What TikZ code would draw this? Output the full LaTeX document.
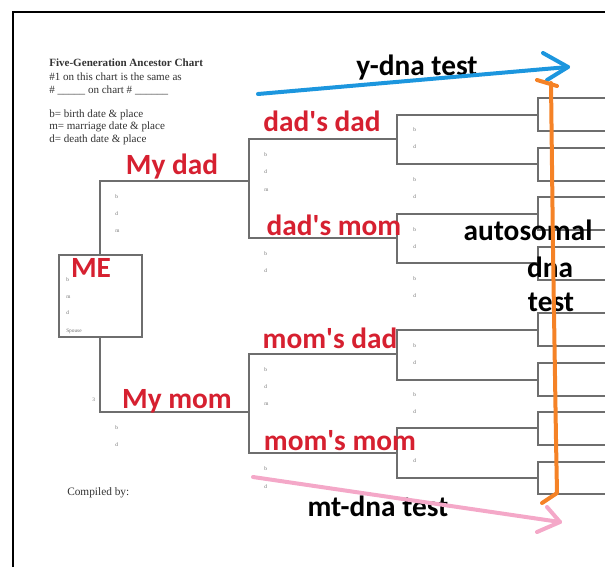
\documentclass[tikz,border=0pt]{standalone}
\usepackage{fontspec}
\setmainfont{Liberation Serif}
\newfontfamily\lblfont{Carlito}
\definecolor{lblred}{RGB}{214,32,48}
\definecolor{ybl}{RGB}{28,150,222}
\definecolor{orng}{RGB}{245,130,38}
\definecolor{pnk}{RGB}{244,168,200}
\definecolor{chartgray}{RGB}{110,110,110}
\begin{document}
\begin{tikzpicture}[x=0.75pt,y=-0.75pt,
  chart/.style={draw=chartgray,line width=0.9pt},
  frame/.style={draw=black,line width=2pt},
  redlbl/.style={text=lblred,font=\lblfont\bfseries\fontsize{22}{24}\selectfont,inner sep=0pt},
  blklbl/.style={text=black,font=\lblfont\bfseries\fontsize{22}{24}\selectfont,inner sep=0pt},
  tiny/.style={text=chartgray,font=\fontsize{4}{5}\selectfont,inner sep=0pt,anchor=west},
  head/.style={text=black!80,font=\fontsize{8.3}{10}\selectfont,inner sep=0pt,anchor=west},
  arrowline/.style={line width=3pt,line cap=round,line join=round}]
\useasboundingbox (0,0) rectangle (605,567);
% frame
\draw[frame] (13,567) -- (13,12) -- (605,12);
% heading text
\node[head,font=\bfseries\fontsize{8.3}{10}\selectfont] (t1) at (49,63) {Five-Generation Ancestor Chart};
\node[head] (t2) at (49,77) {\#1 on this chart is the same as};
\node[head] (t3) at (49,90) {\# \_\_\_\_\_ on chart \# \_\_\_\_\_\_};
\node[head] (t4) at (49,115) {b= birth date \& place};
\node[head] (t5) at (49,127) {m= marriage date \& place};
\node[head] (t6) at (49,140) {d= death date \& place};
\node[head,font=\fontsize{8.5}{10}\selectfont] (comp) at (67,493) {Compiled by:};
% ME box
\node[chart,minimum width=83*0.75pt,minimum height=82*0.75pt,inner sep=0pt] (me) at (100.5,296) {};
\coordinate (dadend) at (249,181);
\coordinate (momend) at (249,412);
\draw[chart] (dadend) -- (100,181) -- (me.north -| 100,0);
\draw[chart] (momend) -- (100,412) -- (me.south -| 100,0);
% generation 3 brackets
\draw[chart] (397,139) -- (249,139) -- (249,238) -- (397,238);
\draw[chart] (397,354) -- (249,354) -- (249,453) -- (397,453);
% generation 4 brackets
\foreach \a/\b in {115/164,214/263,330/380,428/478}
  \draw[chart] (538,\a) -- (397,\a) -- (397,\b) -- (538,\b);
% generation 5 brackets
\foreach \a/\b in {98/131,148/181,197/230,247/280,313/346,363/396,412/445,462/494}
  \draw[chart] (605,\a) -- (538,\a) -- (538,\b) -- (605,\b);
% small labels ME
\node[tiny] (meb) at (66,280) {b};
\node[tiny] (mem) at (66,297) {m};
\node[tiny] (med) at (66,313) {d};
\node[tiny] (mes) at (66,331) {Spouse};
% dad / mom
\node[tiny] (dab) at (115,197) {b};
\node[tiny] (dad) at (115,214) {d};
\node[tiny] (dam) at (115,231) {m};
\node[tiny] (three) at (92,400) {3};
\node[tiny] (mob) at (115,428) {b};
\node[tiny] (mod) at (115,445) {d};
% generation 3
\node[tiny] (ddb) at (264,155) {b};
\node[tiny] (ddd) at (264,172) {d};
\node[tiny] (ddm) at (264,190) {m};
\node[tiny] (dmb) at (264,254) {b};
\node[tiny] (dmd) at (264,271) {d};
\node[tiny] (mdb) at (264,370) {b};
\node[tiny] (mdd) at (264,387) {d};
\node[tiny] (mdm) at (264,404) {m};
\node[tiny] (mmb) at (264,469) {b};
\node[tiny] (mmd) at (264,487) {d};
% generation 4
\foreach \y/\l [count=\i] in {130/b,147/d,180/b,197/d,230/b,247/d,279/b,296/d,346/b,363/d,395/b,412/d,461/d}
  \node[tiny] (g4\i) at (413,\y) {\l};
% red labels
\node[redlbl] (lme) at (91,268) {ME};
\node[redlbl] (ldad) at (172,167) {My dad};
\node[redlbl] (lmom) at (177,401) {My mom};
\node[redlbl] (ldd) at (322,121) {dad's dad};
\node[redlbl] (ldm) at (334,225) {dad's mom};
\node[redlbl] (lmd) at (330,338) {mom's dad};
\node[redlbl] (lmm) at (340,441) {mom's mom};
% test labels
\node[blklbl] (ly) at (417,68) {y-dna test};
\node[blklbl] (la1) at (528,230) {autosomal};
\node[blklbl] (la2) at (550,267) {dna};
\node[blklbl] (la3) at (551,302) {test};
\node[blklbl] (lmt) at (378,506) {mt-dna test};
% blue arrow
\coordinate (bs) at (258,94);
\coordinate (bt) at (568,67);
\coordinate (bu) at (543,53);
\coordinate (bl) at (547,80);
\draw[arrowline,draw=ybl] (bs) -- (bt);
\draw[arrowline,draw=ybl] (bu) -- (bt) -- (bl);
% orange line
\coordinate (o1) at (537,80);
\coordinate (o2) at (557,86);
\coordinate (o3) at (551,83);
\coordinate (o4) at (553,250);
\coordinate (o5) at (556,440);
\coordinate (o6) at (557,493);
\coordinate (o7) at (542,503);
\draw[arrowline,draw=orng] (o1) -- (o2);
\draw[arrowline,draw=orng] (o3) -- (o4) -- (o5) -- (o6) -- (o7);
% pink arrow
\coordinate (ps) at (253,477);
\coordinate (pt) at (560,522);
\coordinate (pu) at (547,507);
\coordinate (pl) at (537,532);
\draw[arrowline,draw=pnk] (ps) -- (pt);
\draw[arrowline,draw=pnk] (pu) -- (pt) -- (pl);
\end{tikzpicture}
\end{document}
